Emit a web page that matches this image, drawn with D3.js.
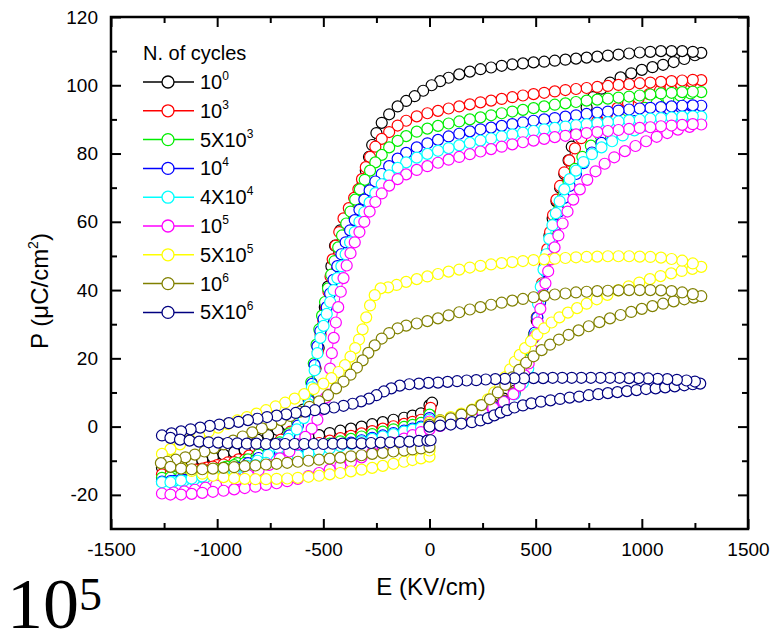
<!DOCTYPE html>
<html>
<head>
<meta charset="utf-8">
<script src="https://cdn.jsdelivr.net/npm/d3@7"></script>
<style>
  body { margin: 0; background: #fff; }
  svg { display: block; }
  text { font-family: Arial, "Liberation Sans", sans-serif; fill: #000; }
</style>
</head>
<body>
<svg id="chart" width="782" height="631"></svg>
<script>
// tick values
const xMajor = [-1500, -1000, -500, 0, 500, 1000, 1500];
const xMinor = [-1250, -750, -250, 250, 750, 1250];
const yMajor = [-20, 0, 20, 40, 60, 80, 100, 120];
const yMinor = [-10, 10, 30, 50, 70, 90, 110];

// legend
const legendBase = ['10', '10', '5X10', '10', '4X10', '10', '5X10', '10', '5X10'];
const legendExp = ['0', '3', '3', '4', '4', '5', '5', '6', '6'];
const colors = ['#000000', '#ff0000', '#00ee00', '#0000ff', '#00ffff', '#ff00ff', '#ffff00', '#808000', '#000080'];

// P-E loops, [E (kV/cm), P (uC/cm2)]
// order: 0 -> +Emax, +Emax -> -Emax, -Emax -> 0
const c1e0 = [
  [0,1],[50,1.8],[100,2.5],[150,3.3],[200,4.2],[250,5.3],[300,6.6],[350,8.2],[400,10.5],[430,13],[455,17],[475,21],[490,26],[505,31],[518,36],[530,41],[542,46],[553,51],[565,56],[580,61],[598,66],[615,70],[635,74],[655,78],[670,82],[690,86],[715,90],[740,93.5],[770,96.5],[810,99],[850,100.8],[900,102.3],[950,103.5],[1000,104.5],[1050,105.3],[1100,106],[1150,106.8],[1200,107.7],[1250,108.8],[1280,109.5],
  [1240,109.8],[1190,110],[1140,110],[1090,110],[1040,109.8],[990,109.6],[940,109.3],[890,109],[840,108.7],[790,108.4],[740,108.1],[690,107.8],[640,107.5],[590,107.2],[540,106.9],[490,106.7],[440,106.4],[390,106.1],[340,105.7],[290,105.2],[240,104.7],[190,104],[140,103.2],[90,102.2],[50,101.2],[10,100],[-30,98.4],[-70,96.8],[-110,95.4],[-150,93.8],[-190,91.5],[-225,89],[-250,86],[-270,82.5],[-285,79],[-300,75],[-315,71],[-335,67],[-360,64],[-390,61],[-420,57.5],[-445,53],[-462,47],[-478,41],[-493,35],[-507,29],[-522,23],[-537,17],[-552,12],[-568,8],[-595,5],[-630,2.5],[-670,0.5],[-715,-1],[-760,-2.5],[-810,-3.8],[-860,-5],[-910,-6.2],[-960,-7.2],[-1010,-8.1],[-1060,-9],[-1110,-9.8],[-1160,-10.6],[-1210,-11.3],[-1260,-12],
  [-1220,-11.8],[-1170,-11.2],[-1120,-10.4],[-1070,-9.8],[-1020,-8.9],[-970,-8.2],[-920,-7.5],[-870,-6.9],[-820,-6.2],[-770,-5.6],[-720,-5],[-670,-4.4],[-620,-3.8],[-570,-3.1],[-520,-2.5],[-470,-1.9],[-420,-1.2],[-370,-0.6],[-320,0],[-270,0.7],[-220,1.3],[-170,2],[-120,2.6],[-80,3.2],[-40,3.9],[0,4.6],[0,6.3],[12,7]
];
const c1e3 = [
  [0,1],[50,1.6],[100,2.3],[150,3],[200,3.8],[250,4.8],[300,6],[350,7.6],[400,10],[435,13],[460,17],[478,22],[492,27],[505,32],[518,37],[530,42],[542,47],[555,52],[568,57],[582,62],[598,66.5],[615,70.5],[635,74.5],[658,78],[685,81.5],[715,84.5],[750,87],[790,89.5],[835,91.5],[885,93.3],[935,94.8],[985,96.2],[1035,97.4],[1085,98.4],[1135,99.4],[1185,100.3],[1235,101],[1280,101.5],
  [1240,101.6],[1190,101.4],[1140,101.2],[1090,101],[1040,100.8],[990,100.6],[940,100.3],[890,100.1],[840,99.8],[790,99.5],[740,99.2],[690,98.9],[640,98.6],[590,98.2],[540,97.8],[490,97.4],[440,97],[390,96.5],[340,96],[290,95.5],[240,95],[190,94.4],[140,93.8],[90,93.2],[40,92.5],[-10,91.8],[-60,90.9],[-110,89.6],[-150,88.2],[-190,86.3],[-225,84.3],[-255,82],[-280,79],[-300,76],[-318,72.5],[-335,69.5],[-355,67],[-380,64],[-405,61],[-425,57],[-442,53],[-456,49],[-466,44],[-476,39.5],[-487,35],[-500,31],[-513,27],[-526,22],[-539,17],[-552,12],[-568,7.5],[-590,4],[-620,1],[-655,-1.5],[-700,-3.8],[-750,-5.7],[-800,-7.2],[-850,-8.5],[-900,-9.6],[-950,-10.5],[-1000,-11.3],[-1050,-12],[-1100,-12.6],[-1150,-13.2],[-1200,-13.6],[-1260,-14],
  [-1220,-14],[-1170,-13.5],[-1120,-12.9],[-1070,-12.3],[-1020,-11.7],[-970,-11.1],[-920,-10.4],[-870,-9.7],[-820,-9],[-770,-8.3],[-720,-7.6],[-670,-6.9],[-620,-6.2],[-570,-5.5],[-520,-4.8],[-470,-4.1],[-420,-3.4],[-370,-2.7],[-320,-2],[-270,-1.3],[-220,-0.6],[-170,0.1],[-120,0.8],[-80,1.4],[-40,2],[0,2.6],[0,4.3],[5,5.5]
];
const c5e3 = [
  [0,0.8],[50,1.4],[100,2.1],[150,2.8],[200,3.6],[250,4.6],[300,5.8],[350,7.4],[400,9.8],[435,13],[460,17],[478,22],[493,27],[507,32],[520,37],[533,41.5],[546,46],[560,50.5],[575,55],[592,59.5],[610,63.5],[630,67.5],[655,71.5],[685,75.5],[720,79],[760,82.3],[805,85.2],[855,87.8],[905,89.9],[960,91.8],[1015,93.4],[1070,94.8],[1125,96],[1180,97],[1230,97.6],[1280,98],
  [1240,98.1],[1190,98],[1140,97.8],[1090,97.6],[1040,97.3],[990,97],[940,96.7],[890,96.4],[840,96.1],[790,95.8],[740,95.5],[690,95.1],[640,94.7],[590,94.3],[540,93.8],[490,93.3],[440,92.8],[390,92.3],[340,91.8],[290,91.2],[240,90.6],[190,90],[140,89.4],[90,88.8],[40,88.1],[-10,87.3],[-60,86.4],[-110,85.1],[-150,83.7],[-190,81.8],[-225,79.6],[-255,77.4],[-280,75],[-305,72.3],[-328,69.5],[-350,66.5],[-372,63],[-392,59.5],[-412,56],[-430,52.5],[-447,48.5],[-463,44.5],[-478,40.5],[-492,36.5],[-506,32.5],[-519,28.5],[-532,24],[-545,18.5],[-557,13],[-570,8],[-592,4],[-622,0.8],[-660,-2],[-705,-4.6],[-755,-6.6],[-805,-8.2],[-855,-9.6],[-905,-10.7],[-955,-11.7],[-1005,-12.5],[-1055,-13.2],[-1105,-13.8],[-1155,-14.3],[-1205,-14.7],[-1260,-15],
  [-1220,-14.9],[-1170,-14.4],[-1120,-13.8],[-1070,-13.2],[-1020,-12.6],[-970,-12],[-920,-11.3],[-870,-10.6],[-820,-9.9],[-770,-9.2],[-720,-8.5],[-670,-7.8],[-620,-7.1],[-570,-6.4],[-520,-5.7],[-470,-5],[-420,-4.3],[-370,-3.6],[-320,-2.9],[-270,-2.2],[-220,-1.5],[-170,-0.8],[-120,-0.1],[-80,0.5],[-40,1.1],[0,1.6],[0,3.5]
];
const c1e4 = [
  [0,0.4],[50,1],[100,1.7],[150,2.4],[200,3.3],[250,4.4],[300,5.7],[350,7.3],[400,9.6],[438,13],[462,17.5],[480,22.5],[495,27.5],[508,32],[521,36.5],[534,41],[547,45.5],[561,50],[576,54.5],[593,59],[612,63],[635,67],[660,70.5],[690,74],[725,77.2],[765,80.3],[810,83.1],[860,85.6],[910,87.7],[965,89.5],[1020,90.9],[1075,92],[1130,92.9],[1185,93.5],[1235,93.9],[1280,94],
  [1240,94.1],[1190,94],[1140,93.8],[1090,93.6],[1040,93.4],[990,93.2],[940,92.9],[890,92.6],[840,92.3],[790,92],[740,91.6],[690,91.2],[640,90.8],[590,90.4],[540,90],[490,89.6],[440,89.1],[390,88.6],[340,88.1],[290,87.6],[240,87.1],[190,86.5],[140,85.8],[90,85],[40,84],[-10,83],[-60,81.8],[-110,80.2],[-150,78.5],[-190,76.3],[-225,74],[-255,71.8],[-282,69.2],[-307,66.5],[-330,63.5],[-352,60.5],[-374,57.5],[-395,54],[-415,50.5],[-434,47],[-452,43],[-468,39],[-484,35],[-499,31.5],[-514,28],[-528,23.5],[-541,18],[-553,12.5],[-567,7.5],[-590,3.5],[-620,0.3],[-660,-2.6],[-705,-5.2],[-755,-7.4],[-805,-9.2],[-855,-10.7],[-905,-12],[-955,-13.1],[-1005,-13.9],[-1055,-14.6],[-1105,-15.2],[-1155,-15.6],[-1205,-15.9],[-1260,-16.1],
  [-1220,-16],[-1170,-15.5],[-1120,-14.9],[-1070,-14.3],[-1020,-13.7],[-970,-13.1],[-920,-12.4],[-870,-11.7],[-820,-11],[-770,-10.3],[-720,-9.6],[-670,-8.9],[-620,-8.2],[-570,-7.5],[-520,-6.8],[-470,-6.1],[-420,-5.4],[-370,-4.7],[-320,-4],[-270,-3.3],[-220,-2.6],[-170,-1.9],[-120,-1.2],[-80,-0.6],[-40,0],[0,0.5],[0,2.5]
];
const c4e4 = [
  [0,0.2],[50,0.8],[100,1.5],[150,2.2],[200,3.1],[250,4.2],[300,5.5],[350,7.1],[400,9.4],[440,12.8],[465,17],[483,22],[498,27],[511,36],[524,41],[537,46],[550,50.5],[564,55],[579,59],[595,62.5],[613,66],[635,69.5],[660,72.5],[690,75],[725,77.5],[765,79.8],[810,81.8],[860,83.6],[910,85.3],[965,86.8],[1020,88.1],[1075,89.1],[1130,89.8],[1185,90.3],[1235,90.6],[1280,90.8],
  [1240,90.9],[1190,90.8],[1140,90.6],[1090,90.4],[1040,90.2],[990,89.9],[940,89.7],[890,89.4],[840,89.2],[790,88.9],[740,88.6],[690,88.3],[640,87.9],[590,87.5],[540,87.1],[490,86.6],[440,86.1],[390,85.6],[340,85],[290,84.4],[240,83.8],[190,83.1],[140,82.4],[90,81.6],[40,80.8],[-10,79.9],[-60,78.8],[-110,77.4],[-150,75.8],[-190,73.6],[-225,71],[-255,68.4],[-282,65.6],[-307,62.8],[-330,60],[-352,57],[-374,54],[-395,50.5],[-415,47],[-434,43.5],[-452,40],[-468,36.5],[-484,33],[-499,29.5],[-514,26],[-528,21.5],[-541,16.5],[-554,11.5],[-568,6.5],[-592,2.5],[-625,-0.8],[-665,-3.6],[-710,-6.2],[-760,-8.3],[-810,-10],[-860,-11.5],[-910,-12.7],[-960,-13.7],[-1010,-14.5],[-1060,-15.1],[-1110,-15.6],[-1160,-16],[-1210,-16.2],[-1260,-16.3],
  [-1220,-16.3],[-1170,-15.8],[-1120,-15.2],[-1070,-14.6],[-1020,-14],[-970,-13.4],[-920,-12.7],[-870,-12],[-820,-11.3],[-770,-10.6],[-720,-9.9],[-670,-9.2],[-620,-8.5],[-570,-7.8],[-520,-7.1],[-470,-6.4],[-420,-5.7],[-370,-5],[-320,-4.3],[-270,-3.6],[-220,-2.9],[-170,-2.2],[-120,-1.5],[-80,-0.9],[-40,-0.3],[0,0.2],[0,2]
];
const c1e5 = [
  [0,-0.5],[50,0.2],[100,1],[150,1.9],[200,2.9],[250,4.1],[300,5.5],[350,7.2],[395,9.5],[425,12],[448,15],[467,18.5],[483,22.5],[497,26.5],[510,30.5],[522,34.5],[534,38.5],[546,42],[559,45.5],[573,49],[589,52.5],[607,56],[627,59.5],[650,63],[677,66.5],[708,69.5],[743,72.3],[782,74.8],[825,77],[870,78.9],[920,80.7],[970,82.2],[1020,83.6],[1070,84.9],[1120,86],[1170,87],[1225,87.8],[1280,88.5],
  [1240,88.6],[1190,88.4],[1140,88.2],[1090,88],[1040,87.7],[990,87.5],[940,87.2],[890,86.9],[840,86.6],[790,86.3],[740,86],[690,85.6],[640,85.2],[590,84.8],[540,84.3],[490,83.8],[440,83.3],[390,82.7],[340,82],[290,81.3],[240,80.6],[190,79.8],[140,79],[90,78.2],[40,77.3],[-10,76.3],[-60,75.2],[-110,73.9],[-150,72.5],[-190,70.6],[-225,68.3],[-255,65.8],[-282,63],[-307,60],[-330,57],[-352,54],[-372,50.8],[-390,47.2],[-405,43.5],[-418,39.5],[-430,35],[-441,30.5],[-451,26],[-460,21.5],[-468,17],[-476,12.5],[-488,8.5],[-505,5],[-528,2],[-555,-0.6],[-585,-3],[-620,-5.2],[-660,-7.3],[-705,-9.3],[-755,-11.2],[-805,-12.8],[-855,-14.2],[-905,-15.4],[-955,-16.4],[-1005,-17.2],[-1055,-17.9],[-1105,-18.5],[-1155,-19],[-1205,-19.3],[-1260,-19.6],
  [-1220,-19.9],[-1170,-19.9],[-1120,-19.7],[-1070,-19.4],[-1020,-19.1],[-970,-18.8],[-920,-18.4],[-870,-18],[-820,-17.6],[-770,-17.1],[-720,-16.6],[-670,-16],[-620,-15.3],[-570,-14.5],[-520,-13.6],[-470,-12.6],[-420,-11.5],[-370,-10.3],[-320,-9],[-270,-7.6],[-220,-6.2],[-170,-4.8],[-120,-3.5],[-80,-2.5],[-40,-1.6],[0,-0.8],[0,1.5]
];
const c5e5 = [
  [0,1],[50,1.8],[100,2.8],[150,3.8],[200,5],[240,6.3],[275,8],[305,10],[332,12.2],[357,14.5],[380,16.8],[402,19],[425,21],[450,23],[478,25],[508,27],[540,28.8],[575,30.5],[612,32],[652,33.4],[695,34.7],[740,36],[788,37.3],[838,38.6],[888,39.9],[938,41.1],[988,42.2],[1038,43.2],[1088,44.1],[1138,44.9],[1188,45.6],[1238,46.2],[1280,46.8],
  [1240,47.8],[1190,48.6],[1140,49.1],[1090,49.5],[1040,49.7],[990,49.8],[940,49.9],[890,49.9],[840,49.9],[790,49.8],[740,49.7],[690,49.6],[640,49.4],[590,49.2],[540,49],[490,48.8],[440,48.5],[390,48.2],[340,47.9],[290,47.5],[240,47.1],[190,46.6],[140,46],[90,45.4],[40,44.7],[-10,44],[-60,43.2],[-110,42.4],[-155,41.5],[-195,40.8],[-230,40.5],[-258,38.5],[-280,35.5],[-298,32],[-315,28.5],[-332,25.5],[-350,23],[-372,20.5],[-398,18],[-428,16],[-462,14.2],[-500,12.6],[-545,11],[-590,9.5],[-635,8.2],[-680,7],[-725,5.9],[-770,4.8],[-815,3.8],[-860,2.8],[-905,1.8],[-950,0.8],[-995,-0.3],[-1040,-1.5],[-1085,-2.7],[-1130,-3.9],[-1175,-5.2],[-1220,-6.6],[-1260,-8],
  [-1220,-10],[-1170,-11.8],[-1120,-13],[-1070,-13.8],[-1020,-14.4],[-970,-14.8],[-920,-15.1],[-870,-15.3],[-820,-15.4],[-770,-15.4],[-720,-15.3],[-670,-15.2],[-620,-15],[-570,-14.7],[-520,-14.4],[-470,-14],[-420,-13.6],[-370,-13.1],[-320,-12.6],[-270,-12.1],[-220,-11.5],[-170,-10.9],[-120,-10.3],[-80,-9.8],[-40,-9.3],[0,-8.8],[0,-7]
];
const c1e6 = [
  [0,0.5],[50,1.4],[100,2.4],[150,3.5],[200,4.8],[245,6.3],[285,8],[322,10],[357,12.2],[390,14.4],[422,16.6],[455,18.7],[490,20.6],[528,22.4],[568,24],[610,25.5],[655,26.9],[702,28.2],[750,29.4],[800,30.6],[850,31.7],[900,32.7],[950,33.6],[1000,34.5],[1050,35.3],[1100,36],[1150,36.7],[1200,37.3],[1245,37.8],[1280,38.2],
  [1240,38.8],[1190,39.3],[1140,39.7],[1090,39.9],[1040,40],[990,40],[940,40],[890,39.9],[840,39.8],[790,39.7],[740,39.5],[690,39.3],[640,39],[590,38.7],[540,38.3],[490,37.9],[440,37.4],[390,36.9],[340,36.3],[290,35.7],[240,35],[190,34.3],[140,33.5],[90,32.6],[40,31.7],[-10,30.9],[-60,30.2],[-110,29.6],[-150,28.8],[-190,27.4],[-225,25.8],[-258,23.8],[-288,21.6],[-315,19.4],[-342,17.3],[-372,15.2],[-405,13.2],[-440,11.2],[-478,9.2],[-520,7.4],[-565,5.8],[-610,4.4],[-655,3.1],[-700,1.9],[-745,0.7],[-790,-0.5],[-835,-1.7],[-880,-2.9],[-925,-4.1],[-970,-5.2],[-1015,-6.3],[-1060,-7.3],[-1105,-8.2],[-1150,-9],[-1195,-9.7],[-1235,-10.3],[-1265,-10.7],
  [-1220,-11.8],[-1170,-12.3],[-1120,-12.5],[-1070,-12.5],[-1020,-12.3],[-970,-12.1],[-920,-11.9],[-870,-11.6],[-820,-11.4],[-770,-11.1],[-720,-10.9],[-670,-10.6],[-620,-10.3],[-570,-10],[-520,-9.7],[-470,-9.4],[-420,-9.1],[-370,-8.7],[-320,-8.4],[-270,-8],[-220,-7.7],[-170,-7.3],[-120,-7],[-80,-6.7],[-40,-6.4],[0,-6],[0,-4]
];
const c5e6 = [
  [0,0],[50,0.3],[100,0.6],[150,0.9],[200,1.3],[240,1.8],[275,2.5],[305,3.3],[335,4.1],[365,4.8],[400,5.6],[440,6.2],[480,6.8],[525,7.3],[570,7.7],[615,8.1],[660,8.5],[705,8.8],[750,9.2],[795,9.5],[840,9.8],[885,10.1],[930,10.4],[975,10.7],[1020,11],[1065,11.2],[1110,11.5],[1155,11.8],[1200,12.1],[1240,12.4],[1275,12.6],
  [1250,13.2],[1210,13.5],[1165,13.7],[1120,13.9],[1075,14],[1030,14.1],[985,14.2],[940,14.2],[895,14.3],[850,14.3],[805,14.3],[760,14.3],[715,14.3],[670,14.3],[625,14.3],[580,14.3],[535,14.2],[490,14.2],[445,14.1],[400,14.1],[355,14],[310,13.9],[265,13.8],[220,13.6],[175,13.5],[130,13.3],[85,13.1],[40,12.9],[-5,12.8],[-50,12.6],[-95,12.4],[-140,12],[-180,11.2],[-215,10.3],[-250,9.2],[-285,8.2],[-322,7.4],[-362,6.7],[-405,6.1],[-450,5.6],[-495,5.2],[-540,4.8],[-585,4.4],[-630,4],[-675,3.6],[-720,3.2],[-765,2.8],[-810,2.3],[-855,1.9],[-900,1.4],[-945,1],[-990,0.6],[-1035,0.2],[-1080,-0.3],[-1125,-0.8],[-1170,-1.4],[-1215,-2],[-1260,-2.6],
  [-1220,-3.3],[-1175,-3.8],[-1130,-4.1],[-1085,-4.4],[-1040,-4.6],[-995,-4.7],[-950,-4.8],[-905,-4.9],[-860,-5],[-815,-5],[-770,-5.1],[-725,-5.1],[-680,-5.1],[-635,-5.1],[-590,-5.1],[-545,-5.1],[-500,-5.1],[-455,-5],[-410,-5],[-365,-4.9],[-320,-4.9],[-275,-4.8],[-230,-4.7],[-185,-4.6],[-140,-4.5],[-95,-4.4],[-50,-4.2],[-10,-4.1],[5,-4]
];

const loops = [c1e0, c1e3, c5e3, c1e4, c4e4, c1e5, c5e5, c1e6, c5e6];

const margin = { top: 17, right: 34, bottom: 102, left: 111 };
const width = 782 - margin.left - margin.right;
const height = 631 - margin.top - margin.bottom;

const svg = d3.select('#chart');
const g = svg.append('g')
  .attr('transform', 'translate(' + margin.left + ',' + margin.top + ')');

const x = d3.scaleLinear().domain([-1500, 1500]).range([0, width]);
const y = d3.scaleLinear().domain([-30, 120]).range([height, 0]);

// ticks point inwards on all four sides
function drawAxis(axis, tx, ty) {
  const a = g.append('g')
    .attr('transform', 'translate(' + tx + ',' + ty + ')')
    .call(axis);
  a.select('.domain').remove();
  a.selectAll('.tick line').attr('stroke', '#000').attr('stroke-width', 2);
  a.selectAll('.tick text')
    .style('font-family', 'Arial, "Liberation Sans", sans-serif')
    .style('font-size', '19px')
    .attr('fill', '#000');
  return a;
}
const label = d => String(d);

drawAxis(d3.axisBottom(x).tickValues(xMajor).tickSizeInner(-10).tickSizeOuter(0).tickPadding(14).tickFormat(label), 0, height);
drawAxis(d3.axisBottom(x).tickValues(xMinor).tickSizeInner(-6).tickSizeOuter(0).tickFormat(''), 0, height);
drawAxis(d3.axisTop(x).tickValues(xMajor).tickSizeInner(-10).tickSizeOuter(0).tickFormat(''), 0, 0);
drawAxis(d3.axisTop(x).tickValues(xMinor).tickSizeInner(-6).tickSizeOuter(0).tickFormat(''), 0, 0);
drawAxis(d3.axisLeft(y).tickValues(yMajor).tickSizeInner(-10).tickSizeOuter(0).tickPadding(13).tickFormat(label), 0, 0);
drawAxis(d3.axisLeft(y).tickValues(yMinor).tickSizeInner(-6).tickSizeOuter(0).tickFormat(''), 0, 0);
drawAxis(d3.axisRight(y).tickValues(yMajor).tickSizeInner(-10).tickSizeOuter(0).tickFormat(''), width, 0);
drawAxis(d3.axisRight(y).tickValues(yMinor).tickSizeInner(-6).tickSizeOuter(0).tickFormat(''), width, 0);

// loops
const line = d3.line().x(d => x(d[0])).y(d => y(d[1]));
loops.forEach((pts, i) => {
  const s = g.append('g');
  s.append('path')
    .datum(pts)
    .attr('d', line)
    .attr('fill', 'none')
    .attr('stroke', colors[i])
    .attr('stroke-width', 1);
  s.selectAll('circle')
    .data(pts)
    .join('circle')
    .attr('cx', d => x(d[0]))
    .attr('cy', d => y(d[1]))
    .attr('r', 5.5)
    .attr('fill', '#fff')
    .attr('stroke', colors[i])
    .attr('stroke-width', 1.2);
});

// frame
g.append('rect')
  .attr('width', width)
  .attr('height', height)
  .attr('fill', 'none')
  .attr('stroke', '#000')
  .attr('stroke-width', 2.5);

// legend
const legend = svg.append('g').attr('transform', 'translate(143,0)');
legend.append('text')
  .attr('x', 0).attr('y', 60)
  .style('font-size', '20px')
  .text('N. of cycles');
legendBase.forEach((b, i) => {
  const cy = 82 + i * 28.8;
  legend.append('line')
    .attr('x1', 0).attr('x2', 51)
    .attr('y1', cy).attr('y2', cy)
    .attr('stroke', colors[i]).attr('stroke-width', 1.5);
  legend.append('circle')
    .attr('cx', 25).attr('cy', cy).attr('r', 6)
    .attr('fill', '#fff').attr('stroke', colors[i]).attr('stroke-width', 1.3);
  const t = legend.append('text')
    .attr('x', 57).attr('y', cy + 7)
    .style('font-size', '20px');
  t.append('tspan').text(b);
  t.append('tspan').attr('dy', -9).style('font-size', '12px').text(legendExp[i]);
});

// axis titles
svg.append('text')
  .attr('x', 431).attr('y', 595)
  .attr('text-anchor', 'middle')
  .style('font-size', '24px')
  .text('E (KV/cm)');

const yt = svg.append('text')
  .attr('transform', 'translate(48,291) rotate(-90)')
  .attr('text-anchor', 'middle')
  .style('font-size', '24px');
yt.append('tspan').text('P (\u03bcC/cm');
yt.append('tspan').attr('dy', -10).style('font-size', '14px').text('2');
yt.append('tspan').attr('dy', 10).text(')');

// panel mark
const mark = svg.append('text')
  .attr('x', 7).attr('y', 628)
  .style('font-family', '"Liberation Serif", "Times New Roman", serif')
  .style('font-size', '72px');
mark.append('tspan').text('10');
mark.append('tspan').attr('dy', -18).style('font-size', '46px').text('5');
</script>
</body>
</html>
